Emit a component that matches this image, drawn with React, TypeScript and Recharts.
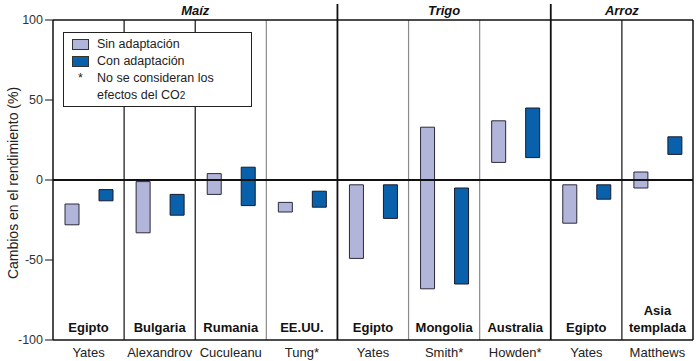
import { Bar, BarChart, Label, Legend, ReferenceArea, ReferenceLine, XAxis, YAxis } from "recharts";

const authors = ["Yates", "Alexandrov", "Cuculeanu", "Tung*", "Yates", "Smith*", "Howden*", "Yates", "Matthews"];
const regions = ["Egipto", "Bulgaria", "Rumania", "EE.UU.", "Egipto", "Mongolia", "Australia", "Egipto", "Asia templada"];

// rango de cambio (%) sin / con adaptación
const sinLow = [-28, -33, -9, -20, -49, -68, 11, -27, -5];
const sinHigh = [-15, -1, 4, -14, -3, 33, 37, -3, 5];
const conLow = [-13, -22, -16, -17, -24, -65, 14, -12, 16];
const conHigh = [-6, -9, 8, -7, -3, -5, 45, -3, 27];

const crops = ["Maíz", "Trigo", "Arroz"];
const cropFirst = [0, 4, 7];
const cropLast = [3, 6, 8];

const yTicks = [-100, -50, 0, 50, 100];

// separadores entre paneles (inicio de la banda)
const panelDividers = [1, 2, 3, 5, 6, 8];
const dividerTone = ["#111", "#111", "#8a8a8a", "#8a8a8a", "#8a8a8a", "#111"];

const data = authors.map((a, i) => ({
  idx: i,
  sin: [sinLow[i], sinHigh[i]],
  con: [conLow[i], conHigh[i]],
}));

const FONT = '"Liberation Sans", Arial, Helvetica, sans-serif';
const LIGHT = "#b2b5da";
const DARK = "#0a61ab";

function AuthorTick({ x, y, payload }: { x: number; y: number; payload: { value: number } }) {
  const i = payload.value;
  const region = regions[i];
  const parts = region === "Asia templada" ? ["Asia", "templada"] : [region];
  return (
    <g>
      {parts.map((p, k) => (
        <text
          key={p}
          x={x}
          y={y - 8 - (parts.length - 1 - k) * 17}
          textAnchor="middle"
          fontFamily={FONT}
          fontSize={13}
          fontWeight="bold"
          fill="#111"
        >
          {p}
        </text>
      ))}
      <text x={x} y={y + 17} textAnchor="middle" fontFamily={FONT} fontSize={13} fill="#222">
        {authors[i]}
      </text>
    </g>
  );
}

function LegendBox() {
  const row = { display: "flex", alignItems: "center", height: 17 } as const;
  const swatch = (c: string) => (
    <span style={{ width: 15, height: 9, background: c, border: "1px solid #333", marginRight: 8, flexShrink: 0 }} />
  );
  return (
    <div
      style={{
        width: 189,
        height: 75,
        boxSizing: "border-box",
        border: "1px solid #222",
        background: "#fff",
        padding: "3px 0 0 8px",
        fontFamily: FONT,
        fontSize: 12.5,
        color: "#222",
        lineHeight: "17px",
      }}
    >
      <div style={row}>{swatch(LIGHT)}Sin adaptación</div>
      <div style={row}>{swatch(DARK)}Con adaptación</div>
      <div style={row}>
        <span style={{ width: 17, marginRight: 8, textAlign: "center" }}>*</span>No se consideran los
      </div>
      <div style={row}>
        <span style={{ width: 17, marginRight: 8 }} />
        efectos del CO<sub style={{ fontSize: 10, lineHeight: 0 }}>2</sub>
      </div>
    </div>
  );
}

export default function App() {
  return (
    <div style={{ position: "absolute", left: 0, top: 0, background: "#fff" }}>
      <BarChart
        width={700}
        height={361}
        data={data}
        margin={{ top: 20, right: 7, left: 0, bottom: 0 }}
        barSize={14}
        barGap={20}
      >
        <XAxis
          dataKey="idx"
          type="category"
          tickLine={false}
          tickSize={0}
          tickMargin={0}
          axisLine={{ stroke: "#111", strokeWidth: 1.5 }}
          tick={(p: any) => <AuthorTick {...p} />}
          interval={0}
          height={21}
        />
        <YAxis
          domain={[-100, 100]}
          ticks={yTicks}
          width={53}
          tickSize={8}
          tickMargin={2}
          tickLine={{ stroke: "#111" }}
          axisLine={{ stroke: "#111", strokeWidth: 1.5 }}
          tick={{ fontSize: 12.5, fill: "#333", fontFamily: FONT }}
        >
          <Label
            content={({ viewBox }: any) => (
              <text
                x={viewBox.x + 13}
                y={viewBox.y + viewBox.height / 2 + 3}
                transform={`rotate(-90 ${viewBox.x + 13} ${viewBox.y + viewBox.height / 2 + 3})`}
                textAnchor="middle"
                dominantBaseline="central"
                fontFamily={FONT}
                fontSize={14}
                fill="#222"
              >
                Cambios en el rendimiento (%)
              </text>
            )}
          />
        </YAxis>

        {crops.map((c, i) => (
          <ReferenceArea
            key={c}
            x1={cropFirst[i]}
            x2={cropLast[i]}
            y1={-100}
            y2={100}
            fill="none"
            stroke="none"
            label={{
              value: c,
              position: "top",
              offset: 5,
              fontFamily: FONT,
              fontSize: 13,
              fontWeight: "bold",
              fontStyle: "italic",
              fill: "#111",
            }}
          />
        ))}

        {panelDividers.map((d, i) => (
          <ReferenceLine key={d} x={d} position="start" stroke={dividerTone[i]} strokeWidth={1.2} />
        ))}
        {cropFirst.slice(1).map((d) => (
          <ReferenceLine
            key={`c${d}`}
            segment={[
              { x: d, y: -100 },
              { x: d, y: 110 },
            ]}
            position="start"
            ifOverflow="visible"
            stroke="#111"
            strokeWidth={1.8}
          />
        ))}
        <ReferenceLine y={100} stroke="#111" strokeWidth={1.5} />
        <ReferenceLine x={8} position="end" stroke="#111" strokeWidth={1.5} />

        <Legend
          layout="horizontal"
          verticalAlign="middle"
          content={() => <LegendBox />}
          wrapperStyle={{ left: 63, top: 32, width: 189, height: 75 }}
        />

        <Bar dataKey="sin" name="Sin adaptación" fill={LIGHT} stroke="#2a2a3a" strokeWidth={1} isAnimationActive={false} />
        <Bar dataKey="con" name="Con adaptación" fill={DARK} stroke="#1a1a2a" strokeWidth={1} isAnimationActive={false} />

        <ReferenceLine y={0} stroke="#111" strokeWidth={2} />
      </BarChart>
    </div>
  );
}
